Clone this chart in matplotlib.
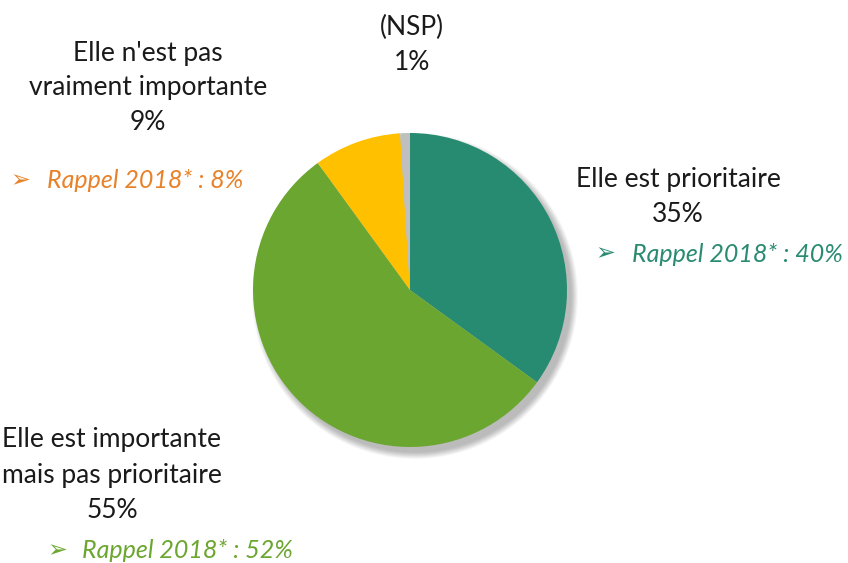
import matplotlib
matplotlib.use("Agg")
import matplotlib.pyplot as plt
from matplotlib.patches import Circle

labels = ["Elle est prioritaire", "Elle est importante\nmais pas prioritaire",
          "Elle n'est pas\nvraiment importante", "(NSP)"]
values = [35, 55, 9, 1]
rappel = ["40%", "52%", "8%", None]
colors = ["#278B72", "#6BA630", "#FFC000", "#BFBFBF"]
rappel_colors = ["#2A8A72", "#6BA630", "#E8822A", None]

plt.rcParams['font.family'] = ['Lato', 'DejaVu Sans']

W, H = 848, 563
fig = plt.figure(figsize=(W / 100, H / 100), dpi=100)
ax = fig.add_axes([0, 0, 1, 1])

def Y(y):
    return H - y

cx, cy, r = 410, Y(290), 157
# soft shadow
for i in range(12):
    ax.add_patch(Circle((cx + 5, cy - 6), r + 6 - i * 0.6, color='black', alpha=0.025, lw=0, zorder=0))

ax.pie(values, colors=colors, startangle=90, counterclock=False,
       center=(cx, cy), radius=r, wedgeprops=dict(linewidth=0), frame=True)
ax.set_xlim(0, W)
ax.set_ylim(0, H)
ax.set_aspect('equal')
ax.axis('off')

fs = 19
rfs = 18
tc = "#1a1a1a"
kw = dict(ha='center', va='center', fontsize=fs, color=tc, linespacing=1.5, fontweight='normal')
rkw = dict(ha='left', va='center', fontsize=rfs, style='italic', fontweight='normal')
akw = dict(ha='center', va='center', fontsize=17, family=['DejaVu Sans'])

# NSP
ax.text(412, Y(45), labels[3] + "\n1%", **kw)
# 9%
ax.text(148, Y(88), labels[2] + "\n9%", **kw)
ax.text(20, Y(180), "➢", color=rappel_colors[2], **akw)
ax.text(47, Y(181), "Rappel 2018* : " + rappel[2], color=rappel_colors[2], **rkw)
# 35%
ax.text(678, Y(197), labels[0] + "\n35%", **kw)
ax.text(605, Y(253), "➢", color=rappel_colors[0], **akw)
ax.text(632, Y(254), "Rappel 2018* : " + rappel[0], color=rappel_colors[0], **rkw)
# 55%
ax.text(112, Y(475), labels[1] + "\n55%", **kw)
ax.text(57, Y(550), "➢", color=rappel_colors[1], **akw)
ax.text(82, Y(551), "Rappel 2018* : " + rappel[1], color=rappel_colors[1], **rkw)

fig.savefig("out.png", dpi=100)
